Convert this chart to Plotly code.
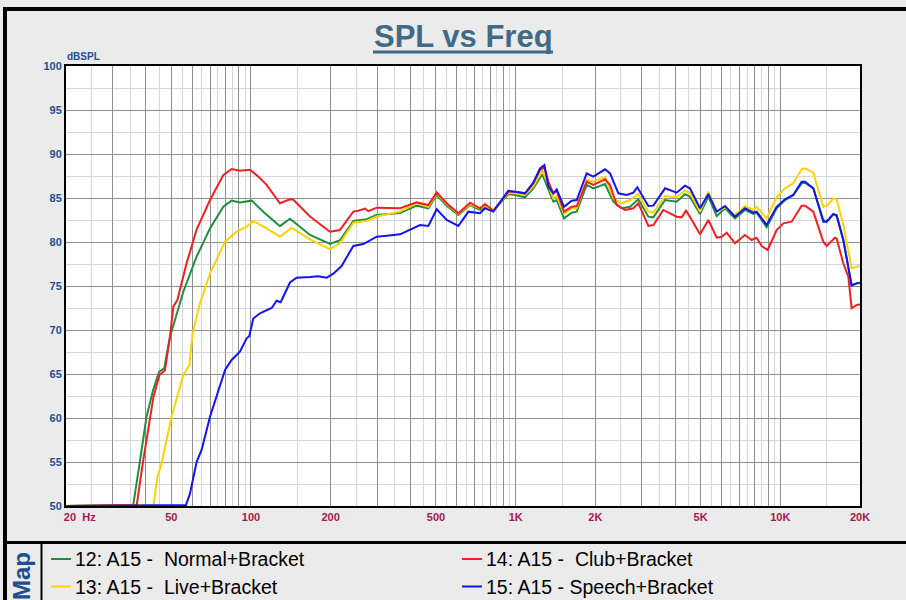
import plotly.graph_objects as go

# ---------------- data ----------------
freq_normal = [20, 35.9, 38.1, 40.3, 42.7, 45.0, 47.0, 49.4, 55.5, 62.3, 70.0, 78.6, 84.5, 90.8, 100.6,
               111.3, 128.6, 140.4, 167.1, 198.8, 216.8, 243.6, 273.7, 298.5, 365.7, 422.7, 467.9, 503,
               548.8, 607.6, 672.4, 733.4, 766.1, 823.9, 938.5, 994.6, 1085, 1166, 1261, 1329, 1388, 1429,
               1523, 1628, 1701, 1855, 1966, 2176, 2340, 2516, 2704, 2907, 3173, 3314, 3667, 4058, 4363,
               4555, 4972, 5347, 5749, 6181, 6742, 7354, 7906, 8139, 8878, 9686, 10414, 11195, 12038,
               12392, 13325, 14534, 14962, 15856, 16322, 17298, 18598, 19425, 20000]
spl_normal = [50, 50.1, 55.2, 60.15, 63.2, 65.27, 65.65, 69.2, 74.35, 78.33, 81.55, 84.0, 84.7, 84.5, 84.7,
              83.45, 81.8, 82.65, 80.8, 79.77, 80.2, 82.4, 82.6, 83.07, 83.3, 84.13, 83.83, 85.34,
              84.13, 83.07, 84.2, 83.64, 84.0, 83.56, 85.45, 85.34, 85.08, 86.1, 87.69, 86.1, 84.58, 84.77,
              82.69, 83.33, 83.45, 86.48, 86.1, 86.59, 84.58, 83.83, 84.0, 84.85, 82.88, 82.8, 84.77, 84.58, 85.42,
              85.15, 83.18, 85.15, 82.95, 83.83, 82.69, 83.64, 83.18, 83.33, 81.67, 83.83, 84.77, 85.34, 86.67,
              86.74, 86.1, 82.5, 82.31, 83.18, 82.95, 80.23, 75.11, 75.3, 75.38]

freq_live = [20, 42.8, 44.3, 45.97, 50.1, 55.5, 58.5, 60.2, 64.1, 70.0, 79.8, 88.3, 96.3, 102.0, 114.6,
             128.6, 142.4, 167.1, 198.8, 216.8, 243.6, 273.7, 298.5, 365.7, 422.7, 467.9, 503, 548.8,
             607.6, 672.4, 733.4, 766.1, 823.9, 938.5, 994.6, 1085, 1166, 1261, 1329, 1388, 1429, 1523,
             1628, 1701, 1855, 1966, 2176, 2340, 2516, 2704, 2907, 3173, 3314, 3667, 4058, 4363, 4555,
             4972, 5347, 5749, 6181, 6742, 7354, 7906, 8139, 8878, 9686, 10414, 11195, 12038, 12392,
             13325, 14534, 14962, 15856, 16322, 17298, 18598, 19425, 20000]
spl_live = [50, 50.1, 53.3, 54.85, 60.15, 64.9, 66.0, 69.6, 73.0, 76.4, 80.04, 81.17, 81.74, 82.4, 81.55,
            80.6, 81.63, 80.3, 79.2, 79.85, 82.2, 82.4, 82.9, 83.45, 84.4, 84.0, 85.53, 84.32,
            83.18, 84.32, 83.83, 84.13, 83.56, 85.6, 85.53, 85.34, 86.36, 88.1, 86.48, 84.96, 85.23, 83.18,
            83.83, 83.83, 87.05, 86.86, 87.42, 84.96, 84.4, 84.77, 85.42, 83.45, 83.37, 85.23, 85.08, 85.83, 85.6,
            83.45, 85.72, 83.45, 83.94, 83.07, 84.09, 83.64, 84.0, 82.69, 85.08, 86.1, 86.67, 88.26, 88.37,
            87.88, 84.0, 84.09, 84.96, 84.85, 81.93, 77.0, 77.2, 77.27]

freq_club = [20, 37.0, 39.0, 41.5, 42.8, 45.1, 47.3, 49.4, 50.9, 52.7, 57.1, 62.3, 70.0, 78.6, 84.5, 90.8,
             99.1, 105, 114.6, 128.6, 140.4, 144.5, 167.1, 198.8, 216.8, 243.6, 254.4, 269.8, 277.5, 298.5,
             365.7, 422.7, 467.9, 503, 548.8, 607.6, 672.4, 733.4, 766.1, 823.9, 938.5, 994.6, 1085, 1166,
             1236, 1284, 1329, 1388, 1429, 1523, 1628, 1701, 1855, 1966, 2176, 2273, 2409, 2589, 2784, 2907,
             3173, 3314, 3614, 4058, 4238, 4401, 4555, 4972, 5347, 5749, 6005, 6269, 6742, 7354, 7792, 8139,
             8501, 8956, 9686, 10264, 11034, 12038, 12392, 13325, 14534, 14962, 16087, 16322, 17298, 18067,
             18598, 19425, 20000]
spl_club = [50, 50.1, 54.85, 59.96, 62.4, 64.9, 65.4, 69.2, 72.65, 73.4, 77.57, 81.4, 84.77, 87.6, 88.3, 88.1,
            88.2, 87.6, 86.5, 84.4, 84.85, 84.8, 82.9, 81.17, 81.36, 83.45, 83.56, 83.8, 83.5, 83.9,
            83.83, 84.5, 84.2, 85.64, 84.4, 83.26, 84.47, 83.83, 84.32, 83.56, 85.72, 85.72, 85.53, 86.67,
            88.18, 88.48, 86.86, 85.53, 85.83, 83.45, 84.0, 84.09, 86.86, 86.48, 87.12, 86.48, 84.2, 83.64, 83.83, 84.4,
            81.82, 81.93, 83.64, 82.88, 82.8, 83.56, 82.88, 80.87, 82.5, 80.49, 80.6, 81.06, 79.85, 80.8, 80.23, 80.49,
            79.55, 79.09, 81.36, 82.12, 82.31, 84.13, 84.13, 83.45, 80.04, 79.55, 80.49, 80.4, 77.58, 76.06,
            72.46, 72.84, 72.9]

freq_speech = [20, 56.8, 58.8, 62.3, 65.1, 70.0, 79.8, 84.5, 90.8, 96.3, 98.5, 102.0, 108.1, 119.7, 125.0,
               129.5, 140.4, 148.7, 167.1, 179.6, 193.2, 204.7, 219.9, 243.6, 265.7, 298.5, 325.8, 365.7,
               435.2, 467.9, 503, 548.8, 607.6, 662.7, 733.4, 766.1, 823.9, 938.5, 994.6, 1085, 1166, 1236,
               1284, 1329, 1388, 1429, 1523, 1628, 1701, 1855, 1966, 2176, 2273, 2444, 2627, 2784, 2882,
               3173, 3314, 3667, 4058, 4363, 4555, 4972, 5347, 5749, 6181, 6742, 7354, 7906, 8139, 8878,
               9686, 10414, 11195, 12038, 12392, 13325, 14534, 14962, 15856, 16322, 17298, 18598, 19425, 20000]
spl_speech = [50, 50.1, 51.4, 55.0, 56.4, 60.15, 65.45, 66.6, 67.54, 69.05, 69.3, 71.3, 71.9, 72.5, 73.33,
              73.15, 75.4, 75.95, 76.02, 76.1, 75.95, 76.4, 77.27, 79.55, 79.77, 80.6, 80.72, 80.87,
              81.93, 81.82, 83.71, 82.5, 81.82, 83.45, 83.26, 83.83, 83.45, 85.83, 85.72, 85.53, 86.74, 88.37,
              88.75, 86.29, 85.53, 85.98, 84.0, 84.7, 84.77, 87.8, 87.42, 88.26, 87.8, 85.53, 85.34, 85.6, 86.21,
              84.09, 84.13, 86.1, 85.6, 86.4, 86.1, 83.83, 85.45, 83.45, 84.09, 82.88, 83.83, 83.33, 83.45, 81.93,
              84.0, 84.85, 85.34, 86.86, 86.86, 86.1, 82.31, 82.31, 83.18, 83.07, 80.23, 75.04, 75.3, 75.38]

name_normal = "12: A15 -\u00a0 Normal+Bracket"
name_live = "13: A15 -\u00a0 Live+Bracket"
name_club = "14: A15 -\u00a0 Club+Bracket"
name_speech = "15: A15 - Speech+Bracket"

x_major = [20, 30, 40, 50, 60, 70, 80, 90, 100, 200, 300, 400, 500, 600, 700, 800, 900,
           1000, 2000, 3000, 4000, 5000, 6000, 7000, 8000, 9000, 10000, 20000]
x_labels = {20: "20\u00a0 Hz", 50: "50", 100: "100", 200: "200", 500: "500", 1000: "1K",
            2000: "2K", 5000: "5K", 10000: "10K", 20000: "20K"}
x_minor = [25, 35, 45, 55, 65, 75, 85, 95, 150, 250, 350, 450, 550, 650, 750, 850, 950,
           1500, 2500, 3500, 4500, 5500, 6500, 7500, 8500, 9500, 15000]
y_major = [50, 55, 60, 65, 70, 75, 80, 85, 90, 95, 100]
y_minor = [52.5, 57.5, 62.5, 67.5, 72.5, 77.5, 82.5, 87.5, 92.5, 97.5]

# ---------------- figure ----------------
FONT = "Arial, 'Liberation Sans', sans-serif"
col_normal, col_live, col_club, col_speech = "#1f8f3f", "#ffd200", "#ee2024", "#1414f0"

W, H = 906, 600
L, R, T, B = 66, 860, 66, 506          # plot-area pixel box


def px(xp):
    return (xp - L) / (R - L)


def py(yp):
    return (B - yp) / (B - T)


fig = go.Figure()
traces = [
    (freq_normal, spl_normal, name_normal, col_normal),
    (freq_live, spl_live, name_live, col_live),
    (freq_club, spl_club, name_club, col_club),
    (freq_speech, spl_speech, name_speech, col_speech),
]
for fx, fy, name, col in traces:
    fig.add_trace(go.Scatter(x=fx, y=fy, mode="lines", name=name, showlegend=False,
                             cliponaxis=False, line=dict(color=col, width=2)))

ticktext = []
for v in x_major:
    lab = x_labels.get(v, "")
    if v == 20:
        lab = "\u00a0" * 9 + lab
    ticktext.append(lab)

fig.update_xaxes(
    type="log", range=[1.30103, 4.30103],
    tickvals=x_major, ticktext=ticktext, ticks="",
    tickfont=dict(family=FONT, size=11, color="#a3174e", weight="bold"),
    showgrid=True, gridcolor="#8f8f8f", gridwidth=1,
    minor=dict(tickvals=x_minor, showgrid=True, gridcolor="#d6d6d6", gridwidth=1, ticks=""),
    showline=True, linecolor="black", linewidth=2, mirror=True, zeroline=False,
    layer="below traces",
)
fig.update_yaxes(
    range=[50, 100], tickvals=y_major, ticks="",
    tickfont=dict(family=FONT, size=11, color="#1d4f8f", weight="bold"),
    showgrid=True, gridcolor="#8f8f8f", gridwidth=1,
    minor=dict(tickvals=y_minor, showgrid=True, gridcolor="#d6d6d6", gridwidth=1, ticks=""),
    showline=True, linecolor="black", linewidth=2, mirror=True, zeroline=False,
    layer="below traces",
)

annotations = [
    dict(text="<b>SPL vs Freq</b>", xref="paper", yref="paper", x=px(463), y=py(36),
         xanchor="center", yanchor="middle", showarrow=False,
         font=dict(family=FONT, size=31, color="#3f6b86")),
    dict(text="<b>dBSPL</b>", xref="paper", yref="paper", x=px(65), y=py(56), xanchor="left",
         yanchor="middle", showarrow=False,
         font=dict(family=FONT, size=10, color="#1d4f8f")),
    dict(text="<b>Map</b>", xref="paper", yref="paper", x=px(21), y=py(576), textangle=-90,
         xanchor="center", yanchor="middle", showarrow=False,
         font=dict(family=FONT, size=24, color="#1d4f8f")),
]
shapes = [
    # title underline
    dict(type="line", xref="paper", yref="paper", x0=px(373), x1=px(553), y0=py(52), y1=py(52),
         line=dict(color="#3f6b86", width=3)),
    # outer frame, legend separator, "Map" box divider
    dict(type="rect", xref="paper", yref="paper", x0=px(5), x1=px(960), y0=py(660), y1=py(9),
         line=dict(color="black", width=4), fillcolor="rgba(0,0,0,0)", layer="above"),
    dict(type="line", xref="paper", yref="paper", x0=px(5), x1=px(960), y0=py(542.5), y1=py(542.5),
         line=dict(color="black", width=3), layer="above"),
    dict(type="line", xref="paper", yref="paper", x0=px(41.5), x1=px(41.5), y0=py(543), y1=py(660),
         line=dict(color="black", width=2), layer="above"),
]

# custom legend panel (two columns, like the reference)
legend_items = [
    (name_normal, col_normal, 51, 559),
    (name_club, col_club, 462, 559),
    (name_live, col_live, 51, 586.5),
    (name_speech, col_speech, 462, 586.5),
]
for text, col, x0, yrow in legend_items:
    shapes.append(dict(type="line", xref="paper", yref="paper", x0=px(x0), x1=px(x0 + 20),
                       y0=py(yrow), y1=py(yrow), line=dict(color=col, width=2)))
    annotations.append(dict(text=text, xref="paper", yref="paper", x=px(x0 + 22), y=py(yrow),
                            xanchor="left", yanchor="middle", showarrow=False,
                            font=dict(family=FONT, size=19.5, color="black")))

fig.update_layout(
    width=W, height=H,
    margin=dict(l=L, r=W - R, t=T, b=H - B, pad=0),
    paper_bgcolor="#ebebeb", plot_bgcolor="white",
    font=dict(family=FONT, color="black"),
    showlegend=False,
    hovermode=False,
    annotations=annotations,
    shapes=shapes,
)

fig.write_html("out.html", config={"displayModeBar": False},
               post_script="document.body.style.margin='0';")
